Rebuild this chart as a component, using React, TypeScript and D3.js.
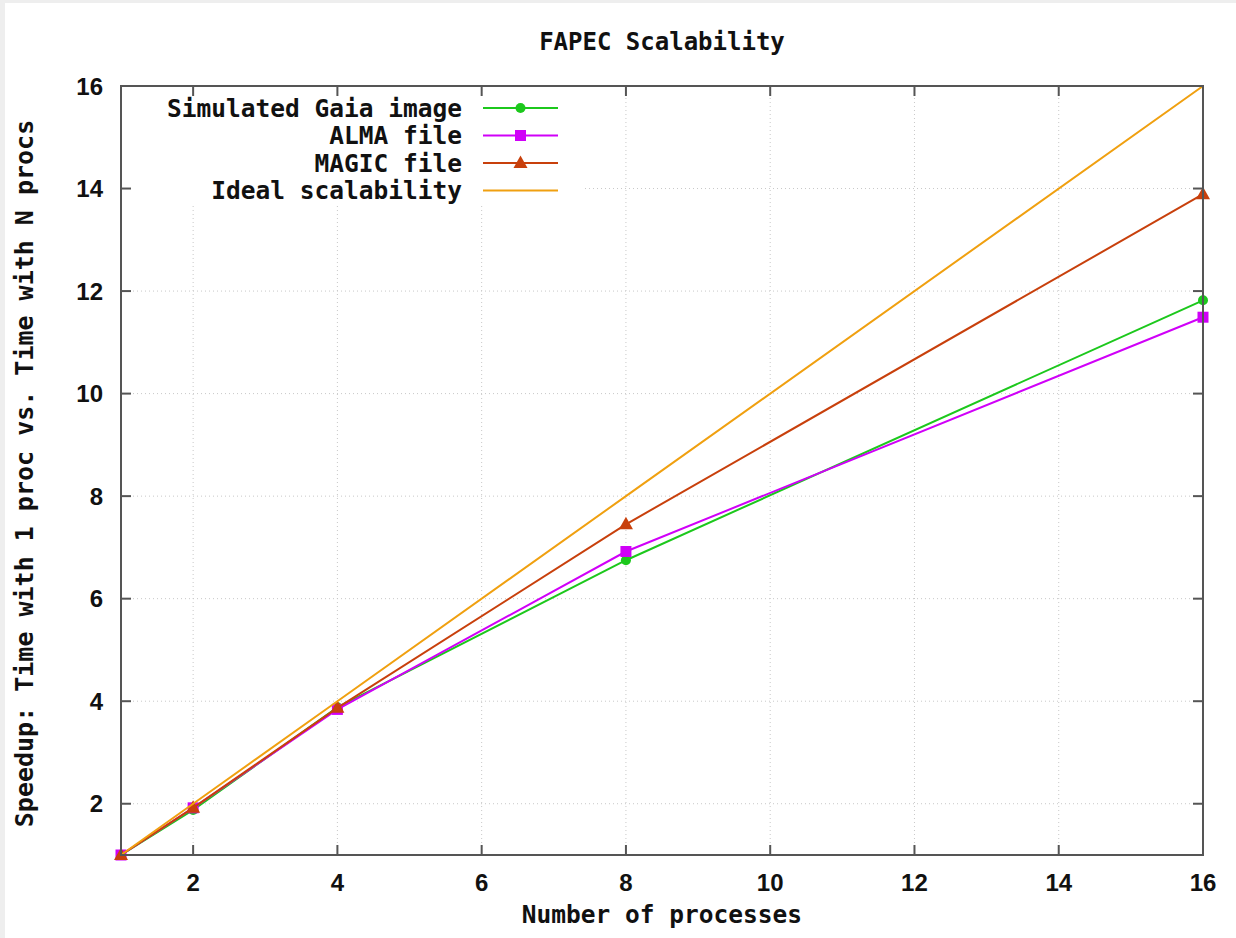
import { useEffect } from 'react';
import * as d3 from 'd3';

const processes = [1, 2, 4, 8, 16];
const gaia = [1, 1.88, 3.88, 6.75, 11.82];
const alma = [1, 1.92, 3.84, 6.92, 11.49];
const magic = [1, 1.92, 3.87, 7.45, 13.89];
const ideal = [1, 2, 4, 8, 16];

const xTicks = [2, 4, 6, 8, 10, 12, 14, 16];
const yTicks = [2, 4, 6, 8, 10, 12, 14, 16];

const seriesNames = ['Simulated Gaia image', 'ALMA file', 'MAGIC file', 'Ideal scalability'];
const seriesColors = ['#1cc81c', '#d000f8', '#c8400c', '#f0a010'];
const seriesMarkers = ['circle', 'square', 'triangle', 'none'];

const W = 1236;
const H = 938;
const margin = { left: 121, right: 33, top: 86, bottom: 83 };

const mono = '"DejaVu Sans Mono", "Liberation Mono", monospace';
const sans = '"Liberation Sans", Arial, sans-serif';

function Marker({ type, x, y, color }: { type: string; x: number; y: number; color: string }) {
  if (type === 'circle') return <circle cx={x} cy={y} r={5} fill={color} />;
  if (type === 'square') return <rect x={x - 5.5} y={y - 5.5} width={11} height={11} fill={color} />;
  if (type === 'triangle')
    return <path d={`M${x},${y - 7.5} L${x + 7},${y + 5} L${x - 7},${y + 5} Z`} fill={color} />;
  return null;
}

export default function App() {
  useEffect(() => {
    document.body.style.margin = '0';
  }, []);

  const x = d3.scaleLinear().domain([1, 16]).range([margin.left, W - margin.right]);
  const y = d3.scaleLinear().domain([1, 16]).range([H - margin.bottom, margin.top]);

  const allSeries = [gaia, alma, magic, ideal];
  const line = d3
    .line<number>()
    .x((_, i) => x(processes[i]))
    .y((d) => y(d));

  const x0 = x(1);
  const x1 = x(16);
  const y0 = y(1);
  const y1 = y(16);

  // legend placement
  const legTextRight = 462;
  const legLineX0 = 483;
  const legLineX1 = 558;
  const legRowY = (i: number) => 108 + i * 27.5;

  return (
    <svg width={W} height={H} style={{ display: 'block', background: '#fff' }}>
      {/* faint frame of the screenshot */}
      <rect x={0} y={0} width={W} height={3} fill="#eeeeee" />
      <rect x={0} y={0} width={5} height={H} fill="#eeeeee" />

      <text x={662} y={50} textAnchor="middle" fontFamily={mono} fontWeight="bold" fontSize={24} fill="#111">
        FAPEC Scalability
      </text>

      {/* grid */}
      <g stroke="#c8c8c8" strokeWidth={1} strokeDasharray="1,3">
        {xTicks
          .filter((t) => t < 16)
          .map((t) => (
            <line key={'gx' + t} x1={x(t)} x2={x(t)} y1={y0} y2={y1} />
          ))}
        {yTicks
          .filter((t) => t < 16)
          .map((t) => (
            <line key={'gy' + t} x1={x0} x2={x1} y1={y(t)} y2={y(t)} />
          ))}
      </g>

      {/* legend box hides the grid */}
      <rect x={x0 + 10} y={y1 + 9} width={452} height={110} fill="#fff" />

      {/* ticks on all four sides */}
      <g stroke="#555" strokeWidth={2}>
        {xTicks.map((t) => (
          <g key={'tx' + t}>
            <line x1={x(t)} x2={x(t)} y1={y0} y2={y0 - 10} />
            <line x1={x(t)} x2={x(t)} y1={y1} y2={y1 + 10} />
          </g>
        ))}
        {yTicks.map((t) => (
          <g key={'ty' + t}>
            <line x1={x0} x2={x0 + 10} y1={y(t)} y2={y(t)} />
            <line x1={x1} x2={x1 - 10} y1={y(t)} y2={y(t)} />
          </g>
        ))}
      </g>

      {/* series */}
      {allSeries.map((s, si) => (
        <g key={'s' + si}>
          <path d={line(s) ?? ''} fill="none" stroke={seriesColors[si]} strokeWidth={2} />
          {s.map((v, i) => (
            <Marker key={i} type={seriesMarkers[si]} x={x(processes[i])} y={y(v)} color={seriesColors[si]} />
          ))}
        </g>
      ))}

      {/* border */}
      <rect x={x0} y={y1} width={x1 - x0} height={y0 - y1} fill="none" stroke="#555" strokeWidth={2} />

      {/* tick labels */}
      {xTicks.map((t) => (
        <text key={'lx' + t} x={x(t)} y={891} textAnchor="middle" fontFamily={sans} fontWeight="bold" fontSize={24} fill="#111">
          {t}
        </text>
      ))}
      {yTicks.map((t) => (
        <text key={'ly' + t} x={103} y={y(t) + 8.5} textAnchor="end" fontFamily={sans} fontWeight="bold" fontSize={24} fill="#111">
          {t}
        </text>
      ))}

      {/* axis labels */}
      <text x={662} y={923} textAnchor="middle" fontFamily={mono} fontWeight="bold" fontSize={24.5} fill="#111">
        Number of processes
      </text>
      <text
        transform={`translate(33, ${(y0 + y1) / 2 + 3}) rotate(-90)`}
        textAnchor="middle"
        fontFamily={mono}
        fontWeight="bold"
        fontSize={25}
        fill="#111"
      >
        Speedup: Time with 1 proc vs. Time with N procs
      </text>

      {/* legend */}
      {seriesNames.map((name, i) => (
        <g key={'leg' + i}>
          <text x={legTextRight} y={legRowY(i) + 8.5} textAnchor="end" fontFamily={mono} fontWeight="bold" fontSize={24.5} fill="#111">
            {name}
          </text>
          <line x1={legLineX0} x2={legLineX1} y1={legRowY(i)} y2={legRowY(i)} stroke={seriesColors[i]} strokeWidth={2} />
          <Marker type={seriesMarkers[i]} x={(legLineX0 + legLineX1) / 2} y={legRowY(i)} color={seriesColors[i]} />
        </g>
      ))}
    </svg>
  );
}
